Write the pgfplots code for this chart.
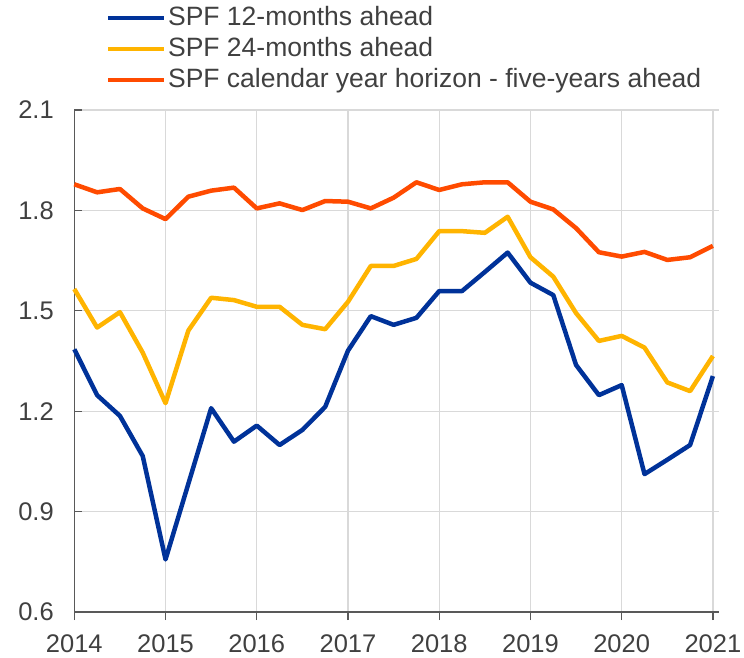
\documentclass[border=0pt]{standalone}
\usepackage{pgfplots}
\pgfplotsset{compat=1.18}
\usepackage{fontspec}
\setmainfont{Liberation Sans}
\definecolor{ecbblue}{HTML}{003299}
\definecolor{ecbyellow}{HTML}{FFB400}
\definecolor{ecborange}{HTML}{FF4B00}
\definecolor{txtgray}{HTML}{404040}
\definecolor{axgray}{HTML}{595959}
\definecolor{grdgray}{HTML}{D9D9D9}
\begin{document}
\begin{tikzpicture}[x=1pt,y=1pt]
\useasboundingbox (0,0) rectangle (744,657);
\begin{axis}[
  at={(74.3pt,45pt)}, anchor=origin,
  scale only axis, width=645pt, height=502pt,
  xmin=2014, xmax=2021.07, ymin=0.6, ymax=2.1,
  xtick={2014,2015,...,2021}, ytick={0.6,0.9,1.2,1.5,1.8,2.1},
  xticklabels={2014,2015,2016,2017,2018,2019,2020,2021},
  yticklabels={0.6,0.9,1.2,1.5,1.8,2.1},
  axis x line*=bottom, axis y line*=left,
  axis line style={axgray, line width=1.2pt, -},
  x tick style={axgray, line width=1.2pt}, y tick style={axgray, line width=1.2pt},
  xtick align=outside, ytick align=inside,
  major tick length=8pt,
  grid=major, major grid style={grdgray, line width=1.2pt},
  ticklabel style={font=\fontsize{25.5}{30}\selectfont, text=txtgray},
  yticklabel style={xshift=-17pt},
  xticklabel style={yshift=-11pt},
  /pgf/number format/assume math mode=true,
  clip=false,
  legend style={at={(0.049,1.213)}, anchor=north west, draw=none, fill=none,
    font=\fontsize{26.5}{31}\selectfont, text=txtgray, row sep=1.6pt, inner sep=0pt,
    nodes={text height=20pt, text depth=5.5pt, inner xsep=1.5pt}},
  legend cell align=left,
  legend image code/.code={\draw[#1, line width=4.5pt] (0pt,0pt) -- (56pt,0pt);},
]
\addplot[ecbblue, line width=4.5pt, line join=round] coordinates {
(2014.00,1.385) (2014.25,1.248) (2014.50,1.186) (2014.75,1.066)
(2015.00,0.757) (2015.25,0.983) (2015.50,1.209) (2015.75,1.109)
(2016.00,1.157) (2016.25,1.099) (2016.50,1.144) (2016.75,1.213)
(2017.00,1.381) (2017.25,1.484) (2017.50,1.458) (2017.75,1.479)
(2018.00,1.559) (2018.25,1.559) (2018.50,1.616) (2018.75,1.674)
(2019.00,1.584) (2019.25,1.547) (2019.50,1.338) (2019.75,1.248)
(2020.00,1.278) (2020.25,1.012) (2020.50,1.055) (2020.75,1.099)
(2021.00,1.305)};
\addlegendentry{SPF 12-months ahead}
\addplot[ecbyellow, line width=4.5pt, line join=round] coordinates {
(2014.00,1.565) (2014.25,1.450) (2014.50,1.496) (2014.75,1.375)
(2015.00,1.224) (2015.25,1.441) (2015.50,1.539) (2015.75,1.532)
(2016.00,1.512) (2016.25,1.512) (2016.50,1.458) (2016.75,1.445)
(2017.00,1.527) (2017.25,1.634) (2017.50,1.634) (2017.75,1.655)
(2018.00,1.738) (2018.25,1.738) (2018.50,1.733) (2018.75,1.781)
(2019.00,1.660) (2019.25,1.602) (2019.50,1.493) (2019.75,1.410)
(2020.00,1.425) (2020.25,1.390) (2020.50,1.286) (2020.75,1.260)
(2021.00,1.365)};
\addlegendentry{SPF 24-months ahead}
\addplot[ecborange, line width=4.5pt, line join=round] coordinates {
(2014.00,1.878) (2014.25,1.854) (2014.50,1.864) (2014.75,1.806)
(2015.00,1.774) (2015.25,1.841) (2015.50,1.859) (2015.75,1.868)
(2016.00,1.806) (2016.25,1.821) (2016.50,1.801) (2016.75,1.828)
(2017.00,1.826) (2017.25,1.806) (2017.50,1.838) (2017.75,1.884)
(2018.00,1.861) (2018.25,1.878) (2018.50,1.884) (2018.75,1.884)
(2019.00,1.826) (2019.25,1.803) (2019.50,1.747) (2019.75,1.675)
(2020.00,1.662) (2020.25,1.676) (2020.50,1.652) (2020.75,1.660)
(2021.00,1.694)};
\addlegendentry{SPF calendar year horizon - five-years ahead}
\end{axis}
\end{tikzpicture}
\end{document}
